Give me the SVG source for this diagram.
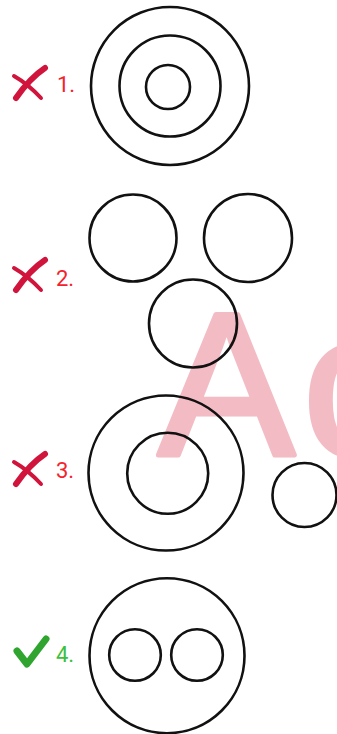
<svg xmlns="http://www.w3.org/2000/svg" width="337" height="734" viewBox="0 0 337 734">
<style>
.c{fill:none;stroke:#111;stroke-width:2.6}
.lbl{font-family:Roboto,"Liberation Sans",sans-serif;font-size:22px}
.bad{fill:#f5222d}
.good{fill:#3cbf3c}
.wm{font-family:"Liberation Sans",Arial,sans-serif;font-size:205px;fill:#f3bcc4;stroke:#f3bcc4;stroke-width:5;stroke-linejoin:round;letter-spacing:8px}
.xs{fill:none;stroke:#d0143c;stroke-linecap:round}
.ck{fill:none;stroke:#2fa52f;stroke-linecap:round;stroke-linejoin:round}
</style>
<rect width="337" height="734" fill="#fff"/>
<text class="wm" x="158" y="455">Ac</text>
<g id="icon1"><path class="xs" d="M45 68 Q30 78 16 98" stroke-width="6"/><path class="xs" d="M14 76 Q28 84 41 98" stroke-width="4"/></g>
<g id="icon2"><path class="xs" d="M45 260 Q30 270 16 290" stroke-width="6"/><path class="xs" d="M14 268 Q28 276 41 290" stroke-width="4"/></g>
<g id="icon3"><path class="xs" d="M45 454 Q30 464 16 484" stroke-width="6"/><path class="xs" d="M14 462 Q28 470 41 484" stroke-width="4"/></g>
<g id="icon4"><path class="ck" d="M17 651 L27 664 L46 639" stroke-width="7"/></g>
<g id="label1"><text class="lbl bad" x="57" y="92">1.</text></g>
<g id="label2"><text class="lbl bad" x="56" y="286">2.</text></g>
<g id="label3"><text class="lbl bad" x="56" y="478">3.</text></g>
<g id="label4"><text class="lbl good" x="56" y="662">4.</text></g>
<g id="diagram1"><circle class="c" cx="170" cy="86" r="79"/><circle class="c" cx="170" cy="86" r="50.5"/><circle class="c" cx="168" cy="87" r="22"/></g>
<g id="diagram2"><circle class="c" cx="133" cy="238" r="43.5"/><circle class="c" cx="248" cy="238" r="44"/><circle class="c" cx="193" cy="323.5" r="44"/></g>
<g id="diagram3"><circle class="c" cx="166" cy="473" r="77.5"/><circle class="c" cx="167.7" cy="473.3" r="40.5"/><circle class="c" cx="304.5" cy="495" r="32"/></g>
<g id="diagram4"><circle class="c" cx="167" cy="655.7" r="77.5"/><circle class="c" cx="135" cy="655" r="25.8"/><circle class="c" cx="197" cy="655" r="25.8"/></g>
<g id="connectors"/>
</svg>
